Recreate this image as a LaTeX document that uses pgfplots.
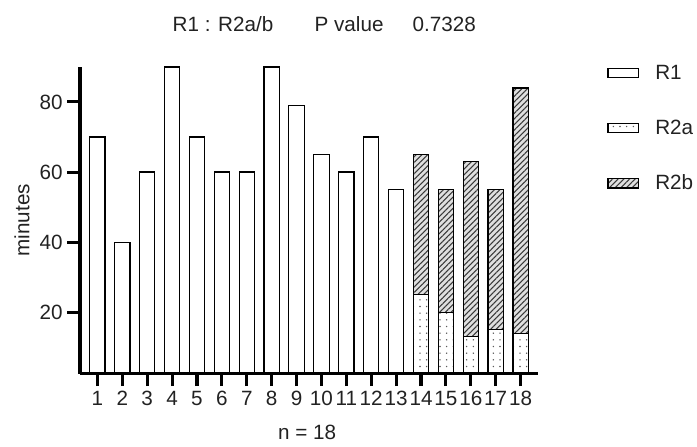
\documentclass[border=0pt]{standalone}
\usepackage{fontspec}
\setmainfont{Liberation Sans}
\usepackage{pgfplots}
\usepackage{pgfplotstable}
\pgfplotsset{compat=1.18}
\usetikzlibrary{patterns.meta}
\definecolor{txt}{HTML}{222222}

% per subject: R1, R2a, R2b (minutes)
\pgfplotstableread{
x  r1  r2a r2b
1  70  0   0
2  40  0   0
3  60  0   0
4  90  0   0
5  70  0   0
6  60  0   0
7  60  0   0
8  90  0   0
9  79  0   0
10 65  0   0
11 60  0   0
12 70  0   0
13 55  0   0
14 0   25  40
15 0   20  35
16 0   13  50
17 0   15  40
18 0   14  70
}\minutes

\tikzset{
  dotsfill/.style={fill=white, postaction={pattern={Dots[radius=0.6pt,distance=5pt]}, pattern color=gray!70!black}},
  hatchfill/.style={fill=gray!25, postaction={pattern={Lines[angle=45,distance=3pt,line width=0.8pt]}, pattern color=gray!45!black}},
}

\begin{document}
\begin{tikzpicture}
\begin{axis}[
  scale only axis, width=343.5pt, height=230pt,
  xmin=0.3, xmax=18.7, ymin=2.5, ymax=90,
  clip mode=individual,
  ybar stacked, bar width=11.5pt,
  axis x line=bottom, axis y line=left,
  axis line style={-, line width=2.6pt, black},
  axis on top,
  tick align=outside, major tick length=9.5pt,
  tick style={line width=2.3pt, black},
  xtick={1,...,18}, ytick={20,40,60,80},
  ticklabel style={font=\fontsize{15.5}{18}\selectfont, text=txt},
  /pgf/number format/assume math mode=true,
  every axis y label/.style={at={(axis description cs:-0.1266,0.5)}, rotate=90, anchor=center,
    font=\fontsize{15.5}{18}\selectfont, text=txt},
  every axis x label/.style={at={(axis description cs:0.496,-0.192)}, anchor=center,
    font=\fontsize{15.5}{18}\selectfont, text=txt},
  ylabel={minutes}, xlabel={n = 18},
  legend style={draw=none, fill=none, at={(axis description cs:1.151,1.016)}, anchor=north west,
    inner sep=0pt, row sep=25pt, font=\fontsize{15.5}{18}\selectfont, text=txt,
    /tikz/every odd column/.append style={column sep=10pt}},
  legend cell align=left,
  legend image code/.code={\draw[#1, line width=0.9pt] (0pt,-3.5pt) rectangle (23pt,3.5pt);},
]
  \addplot[draw=black, line width=0.9pt, fill=white] table[x=x, y=r1] {\minutes};
  \addplot[draw=black, line width=0.9pt, dotsfill] table[x=x, y=r2a] {\minutes};
  \addplot[draw=black, line width=0.9pt, hatchfill] table[x=x, y=r2b] {\minutes};
  \legend{R1, R2a, R2b}

  \node[anchor=base west, font=\fontsize{15.5}{18}\selectfont, text=txt] at (axis description cs:0.192,1.117) {R1 : R2a/b};
  \node[anchor=base west, font=\fontsize{15.5}{18}\selectfont, text=txt] at (axis description cs:0.502,1.117) {P value};
  \node[anchor=base west, font=\fontsize{15.5}{18}\selectfont, text=txt] at (axis description cs:0.716,1.117) {0.7328};

  \coordinate (bl) at (axis description cs:-0.1747,-0.2378);
  \coordinate (tr) at (axis description cs:1.3472,1.2182);
\end{axis}
\pgfresetboundingbox
\path[use as bounding box] (bl) rectangle (tr);
\end{tikzpicture}
\end{document}
